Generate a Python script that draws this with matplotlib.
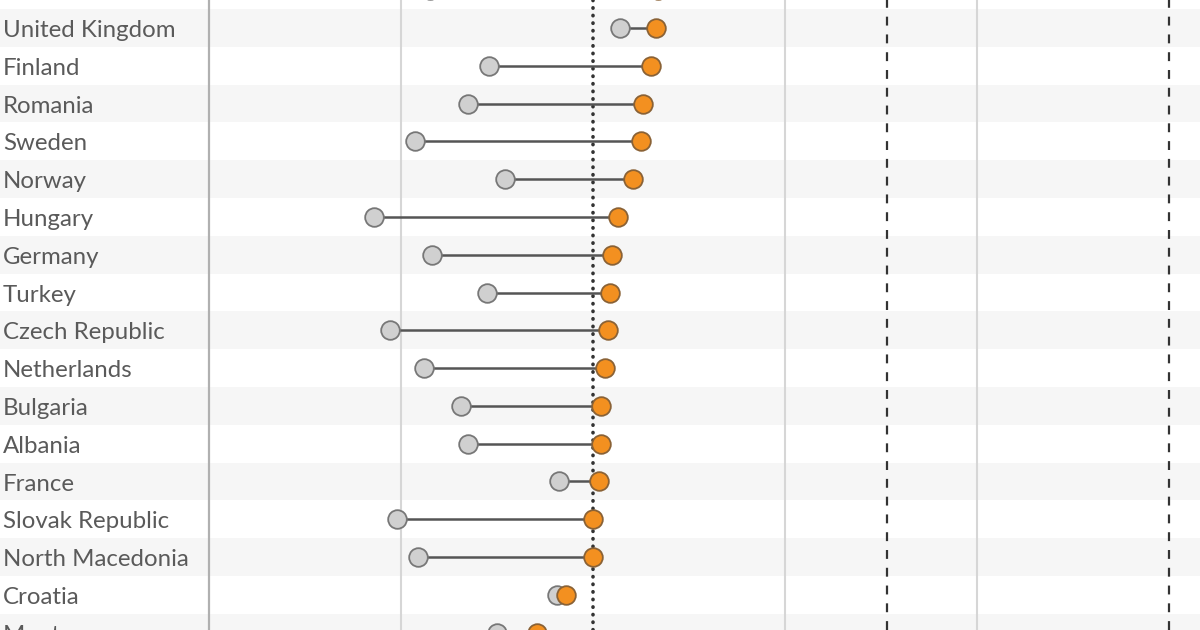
import matplotlib
matplotlib.use("Agg")
import matplotlib.pyplot as plt

# defence spending, % of GDP (grey = earlier year, orange = latest)
countries = ["Denmark", "United Kingdom", "Finland", "Romania", "Sweden", "Norway",
             "Hungary", "Germany", "Turkey", "Czech Republic", "Netherlands",
             "Bulgaria", "Albania", "France", "Slovak Republic", "North Macedonia",
             "Croatia", "Montenegro"]
before = [1.15, 2.14, 1.46, 1.35, 1.07, 1.54, 0.86, 1.16, 1.45, 0.94, 1.12,
          1.31, 1.35, 1.82, 0.98, 1.09, 1.81, 1.50]
after = [2.34, 2.33, 2.30, 2.26, 2.25, 2.21, 2.13, 2.10, 2.09, 2.08, 2.06,
         2.04, 2.04, 2.03, 2.00, 2.00, 1.86, 1.71]

grid_x = [1, 3, 4]
target_dotted = 2.0
targets_dashed = [3.53, 5.0]

x_left, x_right = -1.089, 5.161
y_top, y_bottom = 0.26, 16.93

fig = plt.figure(figsize=(12, 6.3), dpi=100)
ax = fig.add_axes([0, 0, 1, 1])
ax.set_xlim(x_left, x_right)
ax.set_ylim(y_bottom, y_top)
ax.axis("off")

for i in range(len(countries)):
    if i % 2 == 1:
        ax.axhspan(i - 0.5, i + 0.5, color="#f6f6f6", zorder=0, lw=0)

ax.axvline(0, color="#b0b0b0", lw=1.6, zorder=1)
for g in grid_x:
    ax.axvline(g, color="#d6d6d6", lw=1.5, zorder=1)
ax.axvline(target_dotted, color="#333333", lw=2.6, linestyle=(0, (0.1, 2.0)),
           dash_capstyle="round", zorder=2)
for t in targets_dashed:
    ax.axvline(t, color="#333333", lw=1.6, linestyle=(0, (4, 4)), zorder=2)

ys = list(range(len(countries)))
for y, a, b in zip(ys, before, after):
    ax.plot([a, b], [y, y], color="#555555", lw=1.8, zorder=3)

ax.scatter(before, ys, s=180, color="#d0d0d0", edgecolor="#777777",
           linewidth=1.3, zorder=4)
ax.scatter(after, ys, s=180, color="#f39020", edgecolor="#8a6236",
           linewidth=1.3, zorder=5)

for y, name in zip(ys, countries):
    ax.text(x_left + 3 / 192, y + 0.07, name, ha="left", va="center",
            fontsize=17.3, color="#5a5a5a", family="Lato")

fig.savefig("out.png", dpi=100)
